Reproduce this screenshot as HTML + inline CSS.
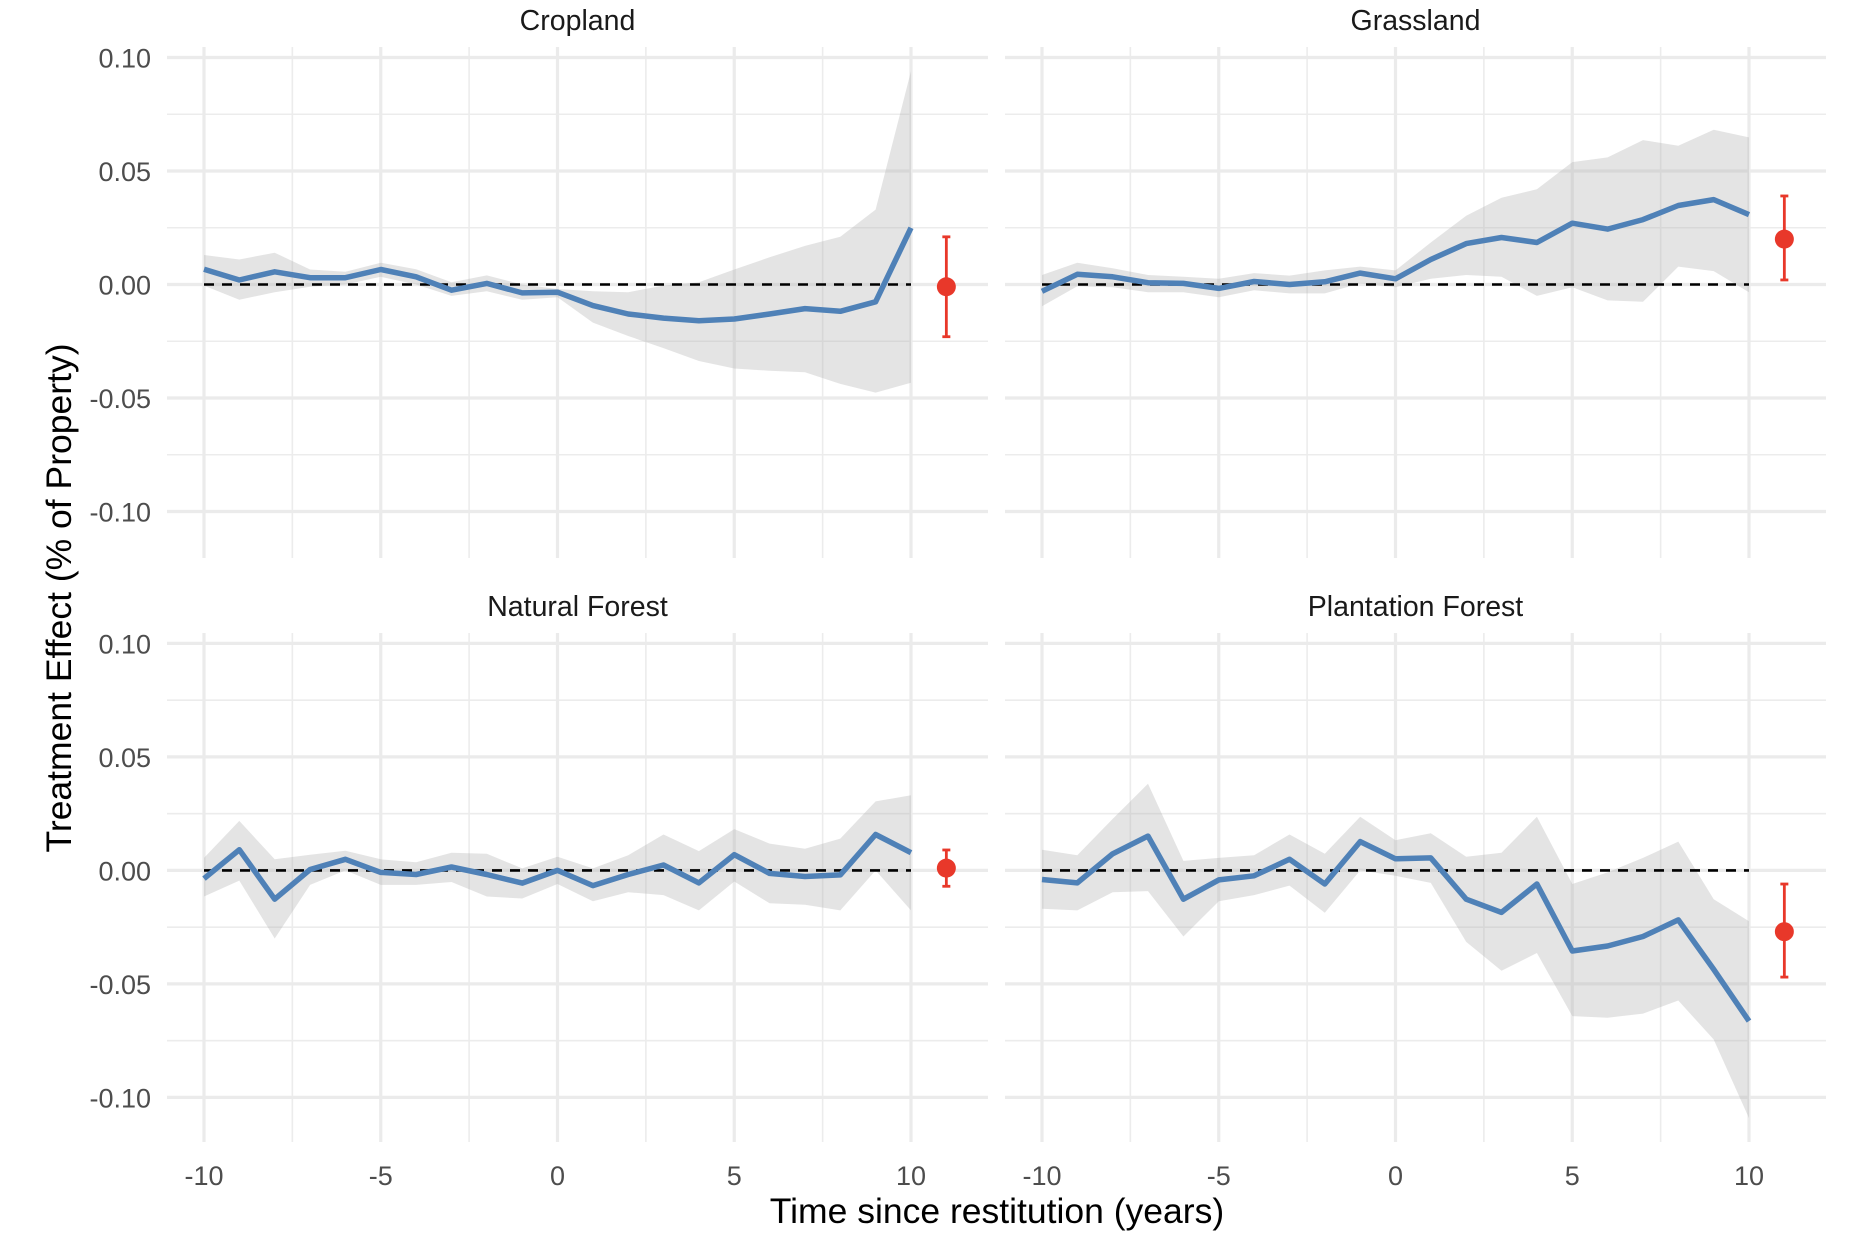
<!DOCTYPE html>
<html><head><meta charset="utf-8"><style>
html,body{margin:0;padding:0;background:#fff;}
svg{display:block;font-family:"Liberation Sans",sans-serif;}
</style></head><body>
<svg id="chart" width="1864" height="1250" xmlns="http://www.w3.org/2000/svg"></svg>
<script>
const years=[-10,-9,-8,-7,-6,-5,-4,-3,-2,-1,0,1,2,3,4,5,6,7,8,9,10];
const panelNames=["Cropland","Grassland","Natural Forest","Plantation Forest"];
const cropEst=[0.0067,0.002,0.0056,0.003,0.003,0.0066,0.0034,-0.0025,0.0005,-0.0037,-0.0034,-0.0093,-0.013,-0.0148,-0.016,-0.0152,-0.013,-0.0106,-0.0118,-0.0076,0.025];
const cropHi=[0.013,0.011,0.014,0.0066,0.0056,0.0096,0.0067,0.001,0.004,0,-0.002,-0.003,-0.0034,-0.0005,0.001,0.0066,0.012,0.017,0.021,0.033,0.094];
const cropLo=[-0.0005,-0.0067,-0.0034,-0.001,0,0.0034,0,-0.005,-0.003,-0.0067,-0.0056,-0.0168,-0.0227,-0.028,-0.0337,-0.037,-0.038,-0.0387,-0.0438,-0.0476,-0.0433];
const grassEst=[-0.003,0.0045,0.0034,0.0008,0.0005,-0.0017,0.0013,0,0.0012,0.005,0.0025,0.011,0.018,0.0207,0.0185,0.027,0.0244,0.0286,0.0348,0.0374,0.0308];
const grassHi=[0.0042,0.0096,0.0072,0.0042,0.0034,0.0025,0.005,0.0039,0.0062,0.0079,0.0062,0.0185,0.0303,0.0382,0.042,0.0539,0.056,0.0636,0.0611,0.0682,0.0648];
const grassLo=[-0.0096,-0.0008,-0.0012,-0.0034,-0.0034,-0.0056,-0.0025,-0.0039,-0.0039,0.0005,-0.0012,0.0025,0.0042,0.0034,-0.005,-0.0012,-0.007,-0.0076,0.0079,0.0059,-0.0034];
const natEst=[-0.0036,0.0091,-0.0127,0.0004,0.0049,-0.0009,-0.0018,0.0015,-0.0018,-0.0056,0,-0.0067,-0.0018,0.0024,-0.0055,0.0069,-0.0013,-0.0027,-0.002,0.0158,0.0078];
const natHi=[0.0055,0.0218,0.0049,0.0069,0.0087,0.0049,0.0036,0.0078,0.0073,0.0009,0.006,0.0009,0.0067,0.0158,0.0085,0.0182,0.0118,0.0095,0.014,0.0304,0.0331];
const natLo=[-0.0115,-0.0045,-0.03,-0.0064,0,-0.0064,-0.0064,-0.0051,-0.0115,-0.0124,-0.006,-0.0136,-0.0096,-0.0109,-0.0176,-0.0049,-0.0145,-0.0151,-0.0176,0,-0.0176];
const plantEst=[-0.004,-0.0055,0.0073,0.0151,-0.0127,-0.0042,-0.0024,0.0049,-0.006,0.0127,0.0051,0.0055,-0.0127,-0.0185,-0.006,-0.0355,-0.0333,-0.0291,-0.0218,-0.0436,-0.0664];
const plantHi=[0.0091,0.0067,0.0227,0.0382,0.0042,0.0055,0.0067,0.0158,0.0073,0.0236,0.0133,0.0164,0.006,0.0078,0.0236,-0.006,-0.0009,0.0055,0.0127,-0.0127,-0.0224];
const plantLo=[-0.0169,-0.0176,-0.0096,-0.0091,-0.0291,-0.0136,-0.0109,-0.0067,-0.0187,0,-0.0024,-0.0055,-0.0315,-0.0442,-0.0364,-0.0642,-0.0649,-0.0631,-0.0573,-0.0745,-0.1091];
const pooledEst=[-0.001,0.020,0.001,-0.027];
const pooledHi=[0.021,0.039,0.009,-0.006];
const pooledLo=[-0.023,0.002,-0.007,-0.047];
const pooledX=11;
const yTicks=[0.10,0.05,0.00,-0.05,-0.10];
const yTickLabels=["0.10","0.05","0.00","-0.05","-0.10"];
const xTicks=[-10,-5,0,5,10];
const xTickLabels=["-10","-5","0","5","10"];

const NS="http://www.w3.org/2000/svg";
const svg=document.getElementById('chart');
function mk(tag,attrs,parent){const e=document.createElementNS(NS,tag);for(const k in attrs)e.setAttribute(k,attrs[k]);(parent||svg).appendChild(e);return e;}

const series=[[cropEst,cropHi,cropLo],[grassEst,grassHi,grassLo],[natEst,natHi,natLo],[plantEst,plantHi,plantLo]];
const panels=[{l:167,t:47,b:558,col:0,row:0},{l:1005,t:47,b:558,col:1,row:0},{l:167,t:633,b:1142,col:0,row:1},{l:1005,t:633,b:1142,col:1,row:1}];
const PW=821;
const slug=["cropland","grassland","natural-forest","plantation-forest"];

panels.forEach((p,i)=>{
  const g=mk('g',{});
  
  
  const xs=x=>p.l+37+(x+10)*35.35;
  const y0=p.row===0?284.5:870.4;
  const ys=v=>y0-v*2270;
  [0.075,0.025,-0.025,-0.075].forEach(v=>{const e=mk('line',{x1:p.l,x2:p.l+PW,y1:ys(v),y2:ys(v),stroke:'#ececec','stroke-width':1.6},g);});
  [-7.5,-2.5,2.5,7.5].forEach(v=>{const e=mk('line',{x1:xs(v),x2:xs(v),y1:p.t,y2:p.b,stroke:'#ececec','stroke-width':1.6},g);});
  yTicks.forEach(v=>{const e=mk('line',{x1:p.l,x2:p.l+PW,y1:ys(v),y2:ys(v),stroke:'#ebebeb','stroke-width':3.2},g);});
  xTicks.forEach(v=>{const e=mk('line',{x1:xs(v),x2:xs(v),y1:p.t,y2:p.b,stroke:'#ebebeb','stroke-width':3.2},g);});
  const [est,hi,lo]=series[i];
  let d='';
  years.forEach((x,k)=>{d+=(k?'L':'M')+xs(x).toFixed(1)+','+ys(hi[k]).toFixed(1);});
  for(let k=years.length-1;k>=0;k--)d+='L'+xs(years[k]).toFixed(1)+','+ys(lo[k]).toFixed(1);
  const rib=mk('path',{d:d+'Z',fill:'#b3b3b3','fill-opacity':0.35},g);
  
  
  const zl=mk('line',{x1:xs(-10),x2:xs(10),y1:ys(0),y2:ys(0),stroke:'#000','stroke-width':2.6,'stroke-dasharray':'10,8'},g);
  
  
  const pts=years.map((x,k)=>xs(x).toFixed(1)+','+ys(est[k]).toFixed(1)).join(' ');
  const ln=mk('polyline',{points:pts,fill:'none',stroke:'#4f81b7','stroke-width':5.5,'stroke-linejoin':'round'},g);
  
  
  const px=xs(pooledX);
  const eb=mk('line',{x1:px,x2:px,y1:ys(pooledHi[i]),y2:ys(pooledLo[i]),stroke:'#e8382a','stroke-width':2.8},g);
  
  
  [pooledHi[i],pooledLo[i]].forEach(v=>{const c=mk('line',{x1:px-4,x2:px+4,y1:ys(v),y2:ys(v),stroke:'#e8382a','stroke-width':2.8},g);});
  const pt=mk('circle',{cx:px,cy:ys(pooledEst[i]),r:9.5,fill:'#e8382a'},g);
  
  
  const st=mk('text',{x:p.l+PW/2,y:p.t-17,'text-anchor':'middle','font-size':28.5,fill:'#1a1a1a'},g);
  st.textContent=panelNames[i];
  
  
  if(p.col===0){yTicks.forEach((v,k)=>{const t=mk('text',{x:151,y:ys(v)+10,'text-anchor':'end','font-size':27,fill:'#4d4d4d'},g);t.textContent=yTickLabels[k];});}
  if(p.row===1){xTicks.forEach((v,k)=>{const t=mk('text',{x:xs(v),y:1185,'text-anchor':'middle','font-size':27,fill:'#4d4d4d'},g);t.textContent=xTickLabels[k];});}
});
const xt=mk('text',{x:997,y:1223,'text-anchor':'middle','font-size':35.5,fill:'#000'});
xt.textContent='Time since restitution (years)';


const yt=mk('text',{x:0,y:0,'text-anchor':'middle','font-size':35.5,fill:'#000',transform:'translate(71,598) rotate(-90)'});
yt.textContent='Treatment Effect (% of Property)';


</script>
</body></html>
